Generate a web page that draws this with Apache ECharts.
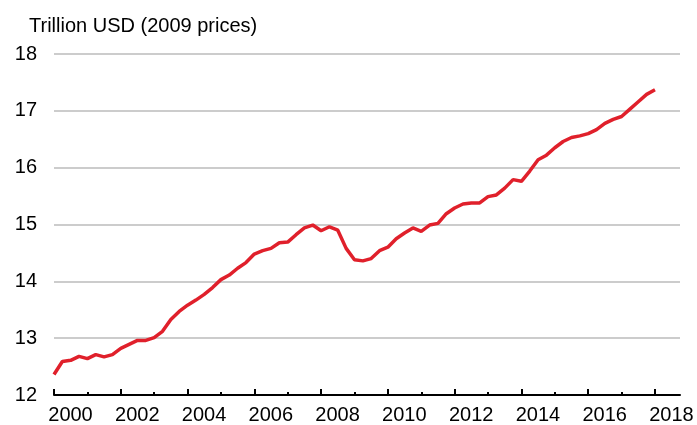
<!DOCTYPE html>
<html>
<head>
<meta charset="utf-8">
<script src="https://cdn.jsdelivr.net/npm/echarts@6/dist/echarts.min.js"></script>
<style>
	html, body { margin: 0; padding: 0; background: #fff; }
	#chart { width: 697px; height: 425px; }
</style>
</head>
<body>
<div id="chart"></div>
<script>
	// quarterly real GDP, trillion USD (2009 prices)
	var quarters = [];
	for (var y = 2000; y <= 2018; y++) {
		for (var q = 1; q <= 4; q++) quarters.push(y + 'Q' + q);
	}
	var gdp = [
		12.36, 12.59, 12.61, 12.68,
		12.64, 12.71, 12.67, 12.71,
		12.82, 12.89, 12.96, 12.96,
		13.01, 13.12, 13.33, 13.47,
		13.58, 13.67, 13.77, 13.89,
		14.03, 14.11, 14.23, 14.33,
		14.48, 14.54, 14.58, 14.68,
		14.69, 14.82, 14.94, 14.99,
		14.89, 14.96, 14.90, 14.58,
		14.38, 14.36, 14.40, 14.54,
		14.60, 14.75, 14.85, 14.94,
		14.88, 14.99, 15.02, 15.19,
		15.29, 15.36, 15.38, 15.38,
		15.49, 15.52, 15.64, 15.79,
		15.76, 15.94, 16.14, 16.22,
		16.35, 16.46, 16.53, 16.56,
		16.60, 16.67, 16.78, 16.85,
		16.90, 17.03, 17.16, 17.29,
		17.37
	];
	var yTicks = [12, 13, 14, 15, 16, 17, 18];

	var font = 'Liberation Sans, Arial, sans-serif';
	function yearOf(v) { return parseInt(v.slice(0, 4), 10); }
	function isQ1(v) { return v.slice(4) === 'Q1'; }

	var myChart = echarts.init(document.getElementById('chart'));

	option = {
		animation: false,
		title: {
			text: 'Trillion USD (2009 prices)',
			left: 29,
			top: 16,
			padding: 0,
			textStyle: { fontFamily: font, fontSize: 20, fontWeight: 'normal', color: '#000' }
		},
		grid: { left: 54, right: 17, top: 54, bottom: 29, containLabel: false },
		xAxis: [
			{
				type: 'category',
				data: quarters,
				boundaryGap: false,
				position: 'bottom',
				axisLine: { show: true, lineStyle: { color: '#000', width: 2 } },
				axisTick: {
					show: true, inside: true, length: 6,
					lineStyle: { color: '#000', width: 2 },
					interval: function (i, v) { return isQ1(v) && yearOf(v) % 2 === 0; }
				},
				axisLabel: {
					show: true,
					interval: function (i, v) { return isQ1(v) && yearOf(v) % 2 === 0; },
					formatter: function (v) { return v.slice(0, 4); },
					padding: [0, 0, 0, 33],
					margin: 10,
					fontFamily: font, fontSize: 20, color: '#000'
				},
				splitLine: { show: false }
			},
			{
				type: 'category',
				data: quarters,
				boundaryGap: false,
				position: 'bottom',
				axisLine: { show: false },
				axisTick: {
					show: true, inside: true, length: 3,
					lineStyle: { color: '#000', width: 2 },
					interval: function (i, v) { return isQ1(v) && yearOf(v) % 2 === 1; }
				},
				axisLabel: { show: false },
				splitLine: { show: false }
			}
		],
		yAxis: {
			type: 'value',
			min: yTicks[0],
			max: yTicks[yTicks.length - 1],
			interval: 1,
			axisLine: { show: false },
			axisTick: { show: false },
			axisLabel: { margin: 17, fontFamily: font, fontSize: 20, color: '#000' },
			splitLine: { show: true, lineStyle: { color: '#cccccc', width: 2 } }
		},
		series: [
			{
				name: 'GDP',
				type: 'line',
				data: gdp,
				symbol: 'none',
				lineStyle: { color: '#e0202b', width: 3.5 },
				z: 3
			}
		]
	};

	myChart.setOption(option);
</script>
</body>
</html>
